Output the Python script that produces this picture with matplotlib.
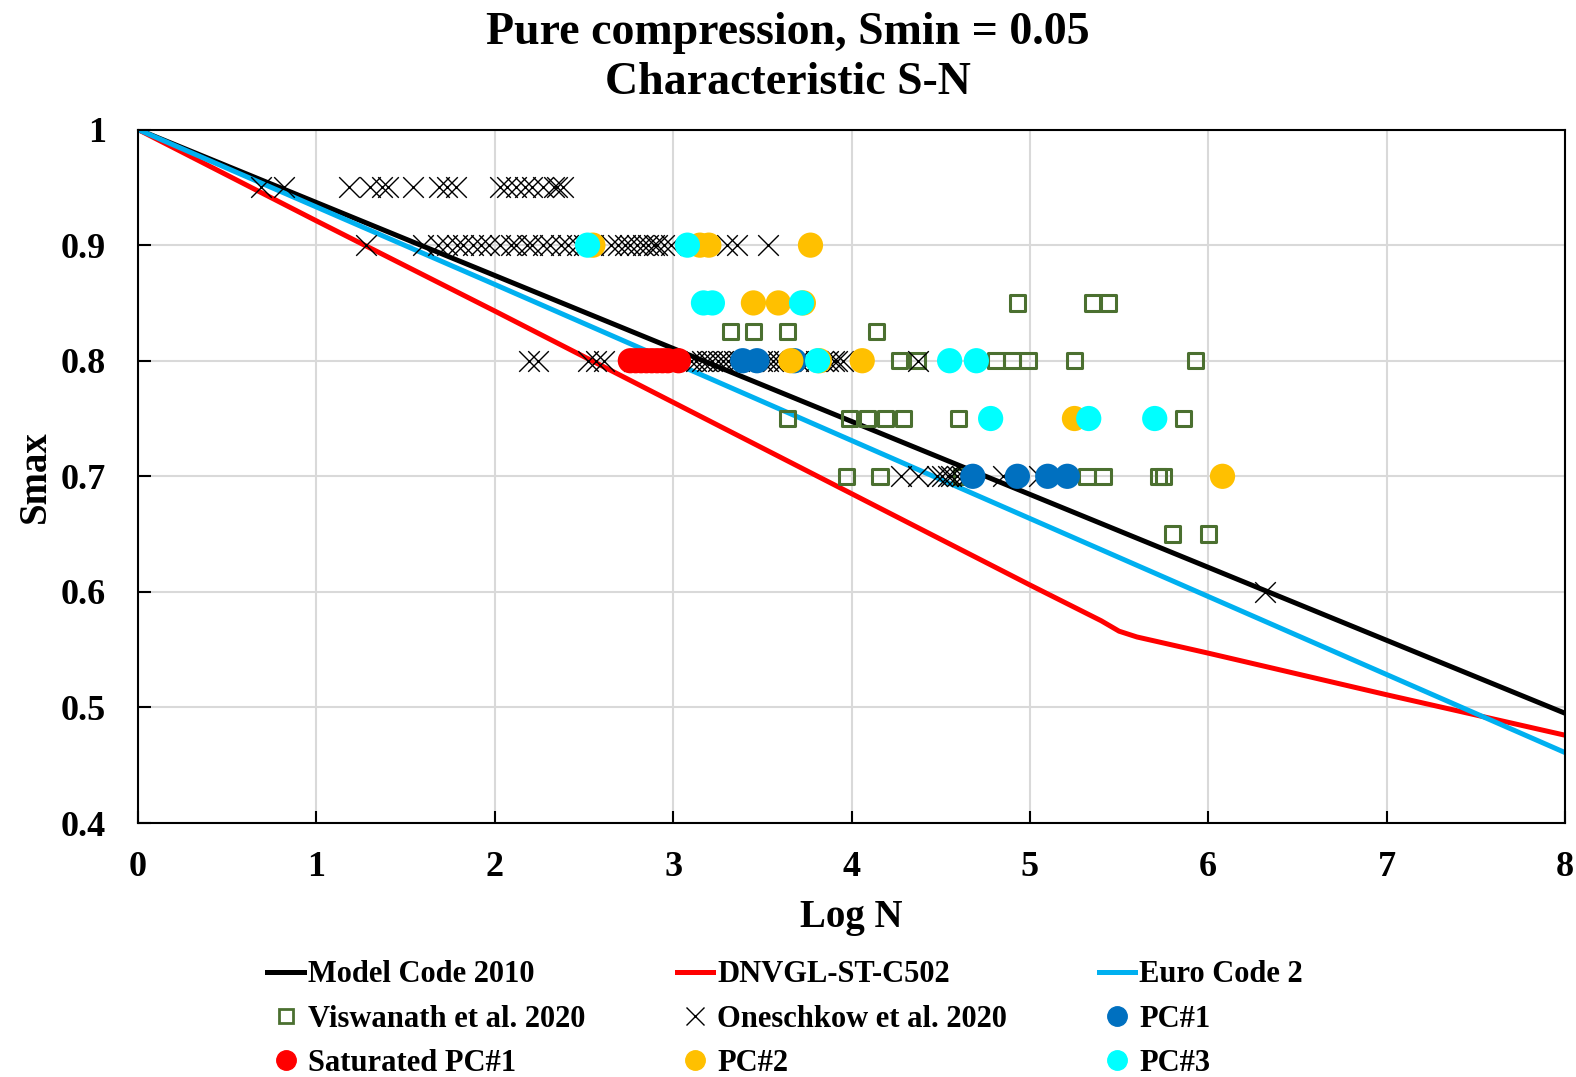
import numpy as np
import matplotlib
matplotlib.use("Agg")
import matplotlib.pyplot as plt
from matplotlib.lines import Line2D

plt.rcParams["font.family"] = ["Liberation Serif", "DejaVu Serif"]
plt.rcParams["font.weight"] = "bold"

# design S-N curves (log N, Smax)
mc2010_x = [0.0, 8.0]
mc2010_y = [1.0, 0.495]

dnv_x = [0.0, 1.0, 2.0, 3.0, 4.0, 5.0, 5.4, 5.5, 5.6, 6.0, 7.0, 8.0]
dnv_y = [1.0, 0.921, 0.843, 0.764, 0.685, 0.606, 0.575, 0.566, 0.561, 0.547, 0.511, 0.476]

ec2_x = [0.0, 2.0, 4.0, 6.0, 8.0]
ec2_y = [1.0, 0.866, 0.731, 0.596, 0.461]

# Viswanath et al. 2020
vis_x = [4.93, 5.35, 5.44,
         3.32, 3.45, 3.64, 4.14,
         4.27, 4.37, 4.81, 4.90, 4.99, 5.25, 5.93,
         3.64, 3.99, 4.09, 4.19, 4.29, 4.60, 5.86,
         3.97, 4.16, 4.62, 5.32, 5.41, 5.72, 5.75,
         5.80, 6.00]
vis_y = [0.85, 0.85, 0.85,
         0.825, 0.825, 0.825, 0.825,
         0.8, 0.8, 0.8, 0.8, 0.8, 0.8, 0.8,
         0.75, 0.75, 0.75, 0.75, 0.75, 0.75, 0.75,
         0.7, 0.7, 0.7, 0.7, 0.7, 0.7, 0.7,
         0.65, 0.65]

# Oneschkow et al. 2020, grouped by stress level
one_x_95 = [0.69, 0.82, 1.18, 1.30, 1.37, 1.40, 1.54, 1.69, 1.73, 1.78,
            2.03, 2.07, 2.12, 2.17, 2.21, 2.27, 2.33, 2.35, 2.38]
one_x_90 = [1.28, 1.60, 1.68, 1.73, 1.79, 1.82, 1.88, 1.92, 1.97, 2.03, 2.09,
            2.12, 2.18, 2.21, 2.27, 2.31, 2.37, 2.41, 2.46, 2.50, 2.55,
            2.65, 2.69, 2.73, 2.76, 2.80, 2.83, 2.86, 2.89, 2.91, 2.95, 2.99,
            3.30, 3.36, 3.53]
one_x_80 = [2.19, 2.24, 2.52, 2.57, 2.61, 2.78, 2.90, 3.00,
            3.10, 3.13, 3.16, 3.19, 3.22, 3.25, 3.28, 3.31, 3.34, 3.37,
            3.41, 3.44, 3.50, 3.53, 3.56, 3.59, 3.62, 3.70, 3.74, 3.77,
            3.80, 3.84, 3.87, 3.90, 3.92, 3.95, 4.37]
one_x_70 = [4.28, 4.37, 4.48, 4.51, 4.54, 4.56, 4.59, 4.62, 4.65, 4.85, 5.05]
one_x_60 = [6.32]

# PC test results
pc1_x = [3.39, 3.47, 3.68, 4.68, 4.93, 5.10, 5.21]
pc1_y = [0.8, 0.8, 0.8, 0.7, 0.7, 0.7, 0.7]

sat_x = [2.76, 2.79, 2.82, 2.85, 2.88, 2.91, 2.94, 2.97, 3.03]
sat_y = [0.8] * len(sat_x)

pc2_x = [2.55, 3.15, 3.20, 3.77, 3.45, 3.59, 3.73, 3.66, 3.82, 4.06, 5.25, 6.08]
pc2_y = [0.9, 0.9, 0.9, 0.9, 0.85, 0.85, 0.85, 0.8, 0.8, 0.8, 0.75, 0.7]

pc3_x = [2.52, 3.08, 3.17, 3.22, 3.72, 3.81, 4.55, 4.70, 4.78, 5.33, 5.70]
pc3_y = [0.9, 0.9, 0.85, 0.85, 0.85, 0.8, 0.8, 0.8, 0.75, 0.75, 0.75]

one_x = one_x_95 + one_x_90 + one_x_80 + one_x_70 + one_x_60
one_y = ([0.95] * len(one_x_95) + [0.9] * len(one_x_90) + [0.8] * len(one_x_80)
         + [0.7] * len(one_x_70) + [0.6] * len(one_x_60))

C_MC, C_DNV, C_EC2 = "black", "#FF0000", "#00B0F0"
C_VIS = "#4B7030"
C_PC1, C_PC2, C_PC3 = "#0070C0", "#FFC000", "#00FFFF"

fig = plt.figure(figsize=(15.76, 10.77), dpi=100)
ax = fig.add_axes([0.0876, 0.2358, 0.9054, 0.6439])

lw = 3.6
ax.plot(mc2010_x, mc2010_y, color=C_MC, lw=lw, zorder=2)
ax.plot(dnv_x, dnv_y, color=C_DNV, lw=lw, zorder=2)
ax.plot(ec2_x, ec2_y, color=C_EC2, lw=lw, zorder=2)

ax.scatter(vis_x, vis_y, s=120, marker="s", facecolor="none", edgecolor=C_VIS, linewidths=2.2, zorder=3)
ax.scatter(one_x, one_y, s=220, marker="x", color="black", linewidths=1.0, zorder=4)
circ = 330
ax.scatter(pc1_x, pc1_y, s=circ, color=C_PC1, edgecolors="none", zorder=5)
ax.scatter(sat_x, sat_y, s=circ, color=C_DNV, edgecolors="none", zorder=5)
ax.scatter(pc2_x, pc2_y, s=circ, color=C_PC2, edgecolors="none", zorder=6)
ax.scatter(pc3_x, pc3_y, s=circ, color=C_PC3, edgecolors="none", zorder=7)

ax.set_xlim(0, 8)
ax.set_ylim(0.4, 1.0)
ax.set_xticks(np.arange(0, 9, 1))
ax.set_yticks([0.4, 0.5, 0.6, 0.7, 0.8, 0.9, 1.0])
ax.set_yticklabels(["0.4", "0.5", "0.6", "0.7", "0.8", "0.9", "1"])
ax.grid(True, color="#D9D9D9", lw=1.5, zorder=0)
ax.set_axisbelow(True)
ax.tick_params(axis="both", labelsize=26, direction="in", length=9, width=1.5)
ax.tick_params(axis="x", pad=20)
ax.tick_params(axis="y", pad=23)
for sp in ax.spines.values():
    sp.set_linewidth(1.5)
    sp.set_color("black")

ax.set_xlabel("Log N", fontsize=28, fontweight="bold", labelpad=11)
ax.set_ylabel("Smax", fontsize=28, fontweight="bold", labelpad=5)

fig.text(0.5, 0.989, "Pure compression, Smin = 0.05\nCharacteristic S-N",
         ha="center", va="top", fontsize=33, fontweight="bold", linespacing=1.25)

h_mc = Line2D([], [], color=C_MC, lw=lw)
h_dnv = Line2D([], [], color=C_DNV, lw=lw)
h_ec2 = Line2D([], [], color=C_EC2, lw=lw)
h_vis = Line2D([], [], ls="none", marker="s", ms=10, mfc="none", mec=C_VIS, mew=2.0)
h_one = Line2D([], [], ls="none", marker="x", ms=13, color="black", mew=1.0)
h_pc1 = Line2D([], [], ls="none", marker="o", ms=14, color=C_PC1)
h_sat = Line2D([], [], ls="none", marker="o", ms=14, color=C_DNV)
h_pc2 = Line2D([], [], ls="none", marker="o", ms=14, color=C_PC2)
h_pc3 = Line2D([], [], ls="none", marker="o", ms=14, color=C_PC3)

# matplotlib fills legend columns first, so order handles column by column
handles = [h_mc, h_vis, h_sat, h_dnv, h_one, h_pc2, h_ec2, h_pc1, h_pc3]
labels = ["Model Code 2010", "Viswanath et al. 2020", "Saturated PC#1",
          "DNVGL-ST-C502", "Oneschkow et al. 2020", "PC#2",
          "Euro Code 2", "PC#1", "PC#3"]
fig.legend(handles, labels, ncol=3, loc="upper left", bbox_to_anchor=(0.160, 0.1226),
           frameon=False, handlelength=1.2, handletextpad=0.12,
           columnspacing=3.0, labelspacing=0.5, borderpad=0.0,
           prop={"weight": "bold", "size": 22})

fig.savefig("out.png", dpi=100)
